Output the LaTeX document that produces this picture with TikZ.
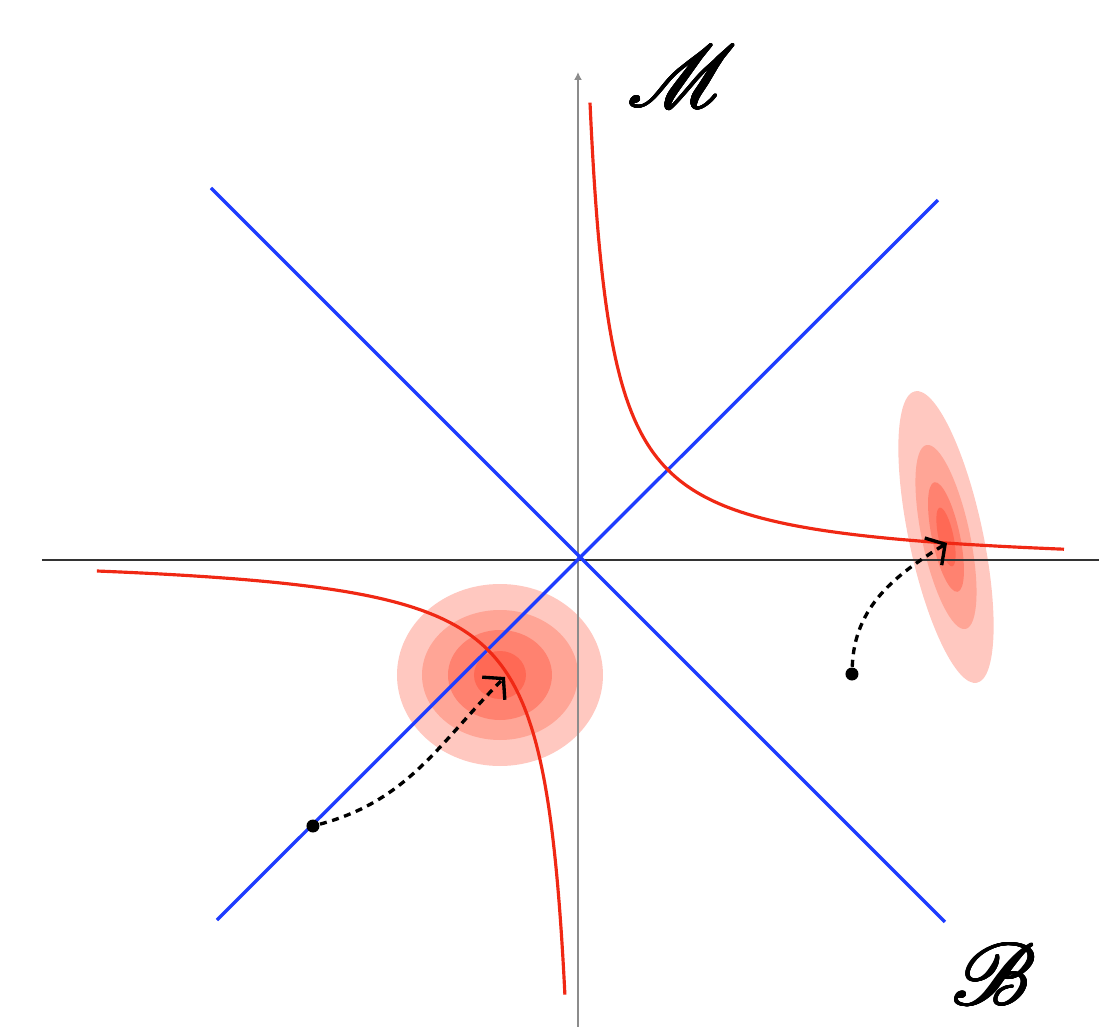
\documentclass[tikz,border=0pt]{standalone}
\usepackage{xcolor}
\usepackage{amssymb}
\usepackage{mathrsfs}
\usepackage{contour}
\usepackage{tikz}
\usetikzlibrary{arrows.meta, calc}

\definecolor{lineblue}{RGB}{30,60,255}
\definecolor{curvered}{RGB}{240,40,20}
\definecolor{blobA}{RGB}{255,200,192}
\definecolor{blobB}{RGB}{255,165,150}
\definecolor{blobC}{RGB}{255,130,112}
\definecolor{blobD}{RGB}{255,105,85}
\contourlength{0.2pt}
\contournumber{16}

\begin{document}
\begin{tikzpicture}[>={Straight Barb[length=1.4mm, width=3.2mm]},
  axis/.style={line width=0.4pt},
  diag/.style={lineblue, line width=0.95pt},
  branch/.style={curvered, line width=0.9pt, samples=120, variable=\t},
  dot/.style={circle, fill=black, inner sep=0pt, minimum size=1.3mm},
  flow/.style={->, line width=0.95pt, dash pattern=on 2pt off 1.6pt},
  lbl/.style={font=\fontsize{25}{30}\selectfont}]
  \useasboundingbox (-5.78,-4.67) rectangle (5.21,5.60);

  % density blobs
  \foreach \c/\rx/\ry in {blobA/1.03/0.91, blobB/0.78/0.65, blobC/0.52/0.45, blobD/0.26/0.24}
    \fill[\c] (-0.78,-1.15) ellipse [x radius=\rx, y radius=\ry];
  \foreach \c/\rx/\ry in {blobA/0.37/1.49, blobB/0.24/0.94, blobC/0.14/0.56, blobD/0.075/0.30}
    \fill[\c, rotate around={12:(3.68,0.23)}] (3.68,0.23) ellipse [x radius=\rx, y radius=\ry];

  % axes
  \draw[axis, black!80] (-5.36,0) -- (5.21,0);
  \draw[axis, black!45, -{Latex[length=0.8mm, width=0.8mm]}] (0,-4.67) -- (0,4.88);

  % diagonals
  \draw[diag] (-3.67,3.72) -- (3.67,-3.62);
  \draw[diag] (-3.61,-3.60) -- (3.60,3.60);

  % hyperbola branches
  \draw[branch, domain=-1.55:1.61] plot ({-0.09+0.99*exp(\t)}, {-0.09+0.99*exp(-\t)});
  \draw[branch, domain=-1.50:1.60] plot ({0.09-0.99*exp(\t)}, {0.09-0.99*exp(-\t)});

  % labels
  \node[lbl] (mlab) at (1.04,4.83) {\contour{black}{$\mathscr{M}$}};
  \node[lbl] (blab) at (4.16,-4.15) {\contour{black}{$\mathscr{B}$}};

  % start points and targets
  \node[dot] (p1) at (-2.65,-2.66) {};
  \node[dot] (p2) at (2.74,-1.14) {};
  \coordinate (q1) at (-0.73,-1.17);
  \coordinate (q2) at (3.69,0.17);

  \draw[flow] (p1) to[out=15, in=225] (q1);
  \draw[flow] (p2) to[out=88, in=212] (q2);
\end{tikzpicture}
\end{document}
